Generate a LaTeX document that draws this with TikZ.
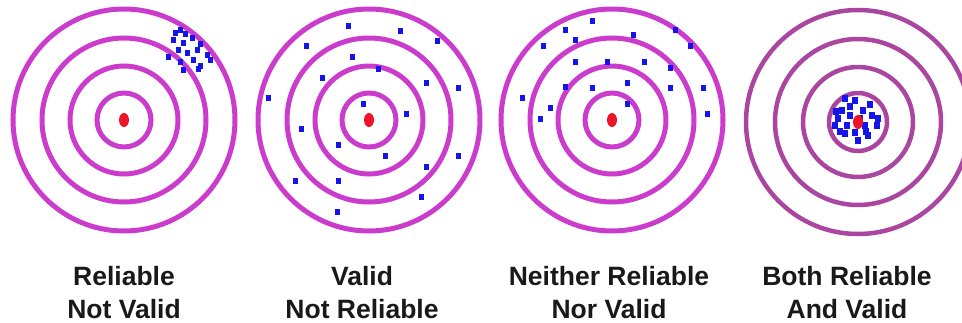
\documentclass[tikz,border=0pt]{standalone}
\usepackage{fontspec}
\setmainfont{Liberation Sans}
\usetikzlibrary{positioning}

\definecolor{ringpink}{RGB}{204,60,204}
\definecolor{ringdark}{RGB}{170,70,160}
\definecolor{shotblue}{RGB}{20,20,235}
\definecolor{bullred}{RGB}{240,20,40}

\begin{document}
\begin{tikzpicture}[
    x=1pt, y=-1pt,
    ring/.style={draw=#1, line width=5pt},
    bull/.style={fill=bullred},
    shot/.style={fill=shotblue},
    caption/.style={font=\fontsize{26.5}{33}\selectfont\bfseries, align=center,
                anchor=base, inner sep=0pt, text=black!90},
]
\useasboundingbox (0,0) rectangle (962,322);

% Target centres
\coordinate (t1) at (124,120);
\coordinate (t2) at (369,120);
\coordinate (t3) at (612,120);
\coordinate (t4) at (858,122);

% Rings and bull's eyes
\foreach \t in {t1,t2,t3} {
    \foreach \r in {111,82,54,27} {
        \draw[ring=ringpink] (\t) circle[radius=\r];
    }
    \fill[bull] (\t) ellipse[x radius=5, y radius=7];
}
\foreach \r in {112,83,55,29} {
    \draw[ring=ringdark, line width=4.5pt] (t4) circle[radius=\r];
}

% Shots: reliable, not valid
\foreach \x/\y in {180/30,185/34,173/40,183/43,192/38,200/44,178/50,187/53,197/50,
                   207/55,168/57,180/62,193/60,200/66,183/70,198/69,210/60,175/33} {
    \fill[shot] (\x-2.5,\y-3) rectangle ++(5,6);
}

% Shots: valid, not reliable
\foreach \x/\y in {348/26,400/31,437/41,306/46,352/57,378/69,322/78,426/83,458/88,
                   268/98,363/104,406/114,301/129,338/145,385/156,458/156,426/167,
                   295/181,338/181,421/197,337/212} {
    \fill[shot] (\x-2.5,\y-3) rectangle ++(5,6);
}

% Shots: neither
\foreach \x/\y in {592/21,565/30,675/30,633/35,575/40,690/46,543/46,575/62,607/62,
                   644/62,670/68,627/83,565/87,592/88,670/88,703/88,522/98,550/108,
                   627/104,540/119,707/114} {
    \fill[shot] (\x-2.5,\y-3) rectangle ++(5,6);
}

% Shots: both
\foreach \x/\y in {845/98,855/100,863/110,842/110,850/115,872/115,835/125,847/125,
                   865/125,877/125,845/133,855/132,868/135,838/118,860/118,
                   850/106,870/104,840/131,878/118,858/140,836/111,866/131} {
    \fill[shot] (\x-3,\y-3.5) rectangle ++(6,7);
}
\fill[bull] (t4) ellipse[x radius=5, y radius=7];

% Captions
\node[caption] (c1) at (124,318) {Reliable\\Not Valid};
\node[caption] (c2) at (362,318) {Valid\\Not Reliable};
\node[caption] (c3) at (609,318) {Neither Reliable\\Nor Valid};
\node[caption] (c4) at (847,318) {Both Reliable\\And Valid};

\end{tikzpicture}
\end{document}
